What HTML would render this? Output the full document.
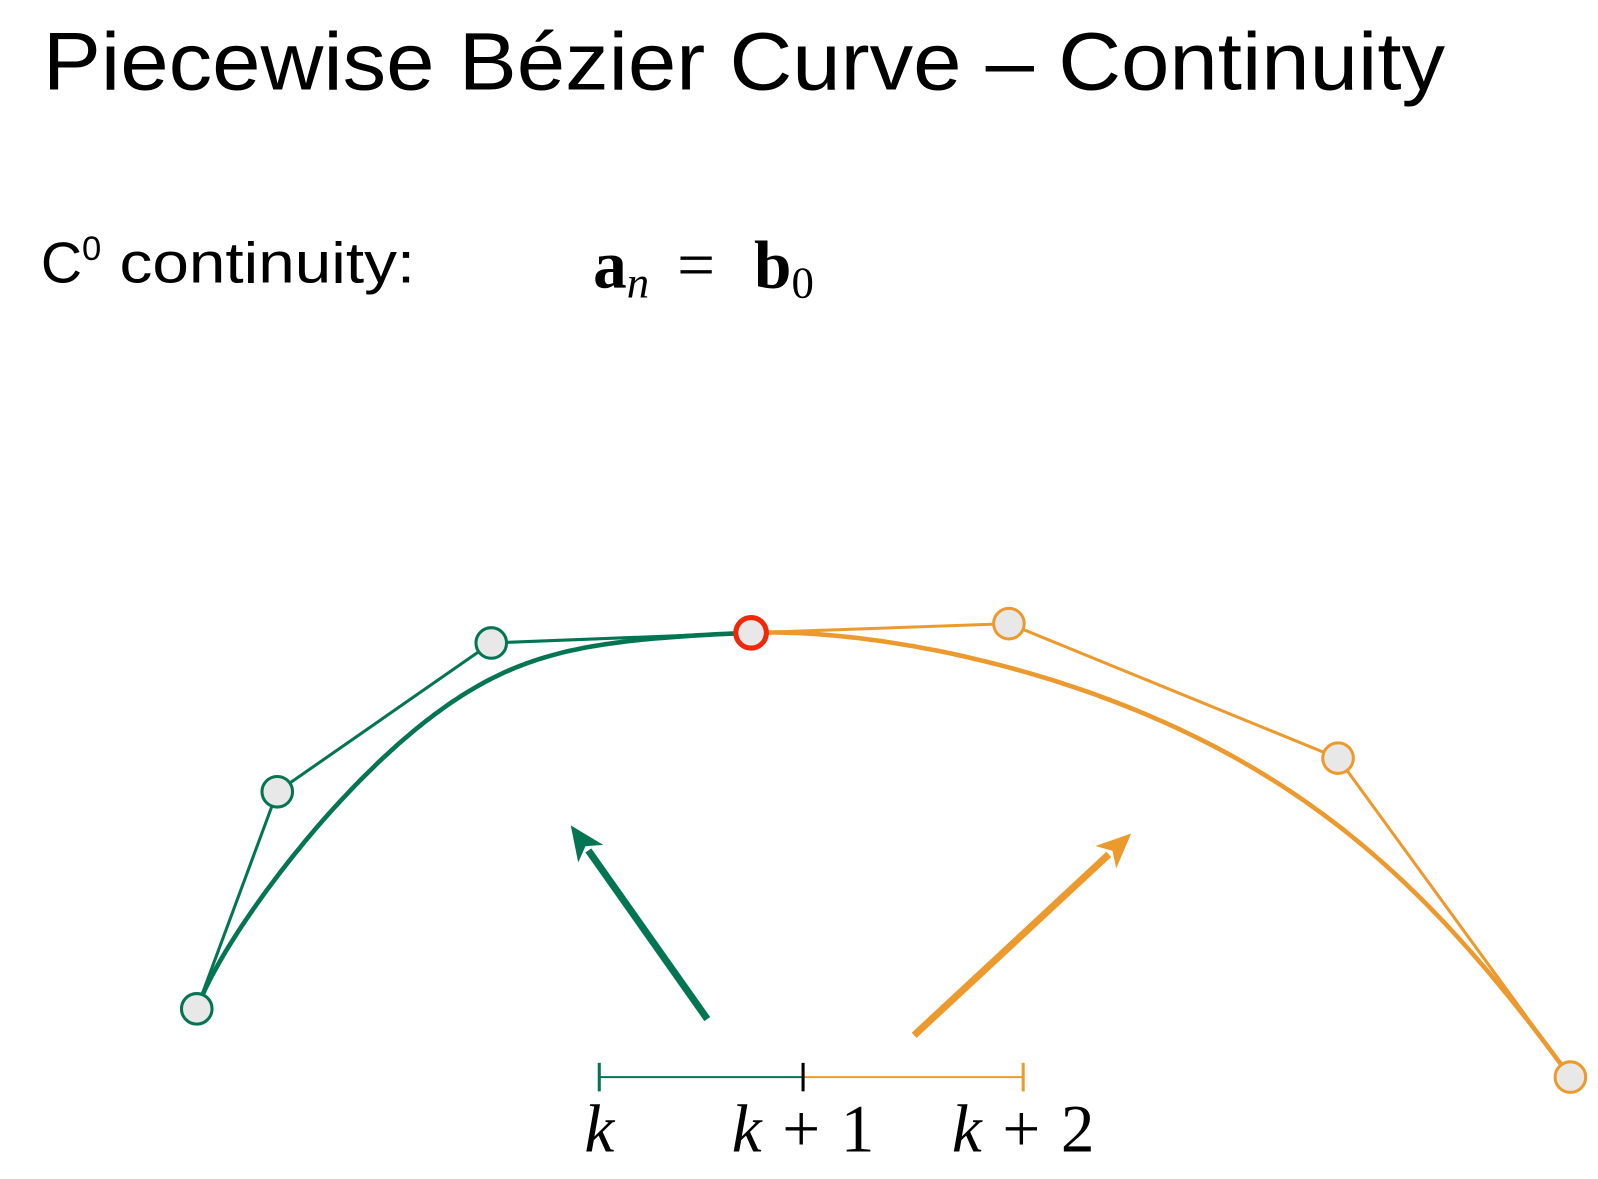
<!DOCTYPE html>
<html><head><meta charset="utf-8"><style>
html,body{margin:0;padding:0;background:#fff;}
svg{display:block;}
</style></head><body>
<svg id="chart" width="1598" height="1179" viewBox="0 0 1568 1157" xmlns="http://www.w3.org/2000/svg">
<text x="42" y="88" font-family="Liberation Sans, sans-serif" font-size="80" textLength="1376" lengthAdjust="spacingAndGlyphs" fill="#000">Piecewise Bézier Curve – Continuity</text>
<text x="40" y="277" font-family="Liberation Sans, sans-serif" font-size="56" fill="#000">C<tspan font-size="34" dy="-22">0</tspan><tspan dy="22" textLength="308" lengthAdjust="spacingAndGlyphs"> continuity:</tspan></text>
<text x="582" y="282" font-family="Liberation Serif, serif" font-size="66" fill="#000"><tspan font-weight="bold">a</tspan><tspan font-style="italic" font-size="44" dy="10">n</tspan><tspan dy="-10" textLength="92"> = </tspan><tspan font-weight="bold">b</tspan><tspan font-size="44" dy="10">0</tspan></text>
<g id="plot"></g>
</svg>
<script>
const greenX=[193,272,482,737];
const greenY=[990,777,631,621];
const orangeX=[737,990,1313,1541];
const orangeY=[621,612,744,1057];
const knots=["k","k + 1","k + 2"];
const knotPos=[588,788,1004];
const G="#047552",O="#ec9a2e";
const ns="http://www.w3.org/2000/svg";
const plot=document.getElementById('plot');
function mk(t,a){const e=document.createElementNS(ns,t);for(const k in a)e.setAttribute(k,a[k]);plot.appendChild(e);return e;}
function curvePts(xs,ys,w){
  const out=[];
  for(let s=0;s<=120;s++){const t=s/120;
    const b=[(1-t)**3,3*t*(1-t)**2,3*t*t*(1-t),t**3].map((v,i)=>v*w[i]);
    const d=b.reduce((a,c)=>a+c,0);
    let x=0,y=0;b.forEach((v,i)=>{x+=v*xs[i];y+=v*ys[i];});
    out.push((x/d).toFixed(1)+','+(y/d).toFixed(1));}
  return out.join(' ');
}
function seg(xs,ys,col,name,w){
  const poly=mk('polyline',{points:xs.map((x,i)=>x+','+ys[i]).join(' '),fill:'none',stroke:col,'stroke-width':3});
  
  
  const c=mk('polyline',{points:curvePts(xs,ys,w),fill:'none',stroke:col,'stroke-width':4.5,'stroke-linejoin':'round'});
  
  
}
seg(greenX,greenY,G,'green',[1,0.8,2,1]);
seg(orangeX,orangeY,O,'orange',[1,1,1.4,1]);
function pts(xs,ys,col,name,skip0){
  xs.forEach((x,i)=>{if(skip0&&i===0)return;
    const p=mk('circle',{cx:x,cy:ys[i],r:15,fill:'#e8e8e8',stroke:col,'stroke-width':3});
    
    });
}
pts(greenX.slice(0,3),greenY.slice(0,3),G,'green');
pts(orangeX,orangeY,O,'orange',true);
const j=mk('circle',{cx:greenX[3],cy:greenY[3],r:15,fill:'#e8e8e8',stroke:'#f0280a','stroke-width':5});


function arrow(x1,y1,x2,y2,col,name){
  const dx=x2-x1,dy=y2-y1,L=Math.hypot(dx,dy),ux=dx/L,uy=dy/L,h=34,w=15;
  const bx=x2-ux*h,by=y2-uy*h;
  const l=mk('line',{x1:x1,y1:y1,x2:bx+ux*4,y2:by+uy*4,stroke:col,'stroke-width':7});
  
  
  const hd=mk('polygon',{points:`${x2},${y2} ${bx-uy*w},${by+ux*w} ${bx+ux*9},${by+uy*9} ${bx+uy*w},${by-ux*w}`,fill:col});
  
  
}
arrow(694,1000,560,810,G,'green');
arrow(897,1016,1110,818,O,'orange');
const ly=1057;
const l1=mk('line',{x1:knotPos[0],y1:ly,x2:knotPos[1],y2:ly,stroke:G,'stroke-width':2});


const l2=mk('line',{x1:knotPos[1],y1:ly,x2:knotPos[2],y2:ly,stroke:O,'stroke-width':2});


const tc=[G,'#000',O];
knotPos.forEach((x,i)=>{
  const t=mk('line',{x1:x,y1:ly-14,x2:x,y2:ly+14,stroke:tc[i],'stroke-width':3});
  
  
  const tx=mk('text',{x:x,y:1130,'text-anchor':i===0?'middle':'start','font-family':'Liberation Serif, serif','font-size':66,fill:'#000'});
  if(i>0){ tx.setAttribute('x',x-70); tx.setAttribute('textLength',140); }
  tx.innerHTML=knots[i].replace(/k/,'<tspan font-style="italic">k</tspan>');
  
  
});
</script>
</body></html>
